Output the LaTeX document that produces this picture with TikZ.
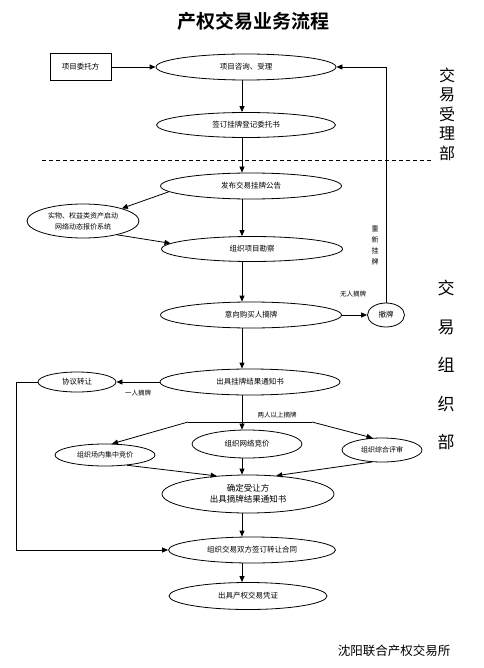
\documentclass[tikz,border=0pt]{standalone}
\usepackage{fontspec}
\setmainfont{Noto Sans CJK SC}
\newfontfamily\cjkb{Noto Sans CJK SC Bold}
\usetikzlibrary{shapes.geometric,arrows.meta,calc}
\tikzset{
  ell/.style={draw, ellipse, inner sep=0pt, line width=0.8pt, font=\fontsize{7.5}{9.5}\selectfont, align=center},
  arr/.style={-{Triangle[length=6pt,width=5pt]}, line width=0.8pt},
  ln/.style={line width=0.8pt},
  lbl/.style={font=\fontsize{6.5}{8}\selectfont, inner sep=0pt},
  side/.style={font=\fontsize{16}{19.5}\selectfont, inner sep=0pt, align=center},
}
\begin{document}
\begin{tikzpicture}[x=1pt,y=-1pt]
\useasboundingbox (0,0) rectangle (483,668);
\fill[white] (0,0) rectangle (483,668);
\coordinate (v) at (242,0);
% title
\node[font=\cjkb\fontsize{19}{22}\selectfont, inner sep=0pt] (title) at (253,21) {产权交易业务流程};
% side labels
\node[side] (s1) at (447,114) {交\\易\\受\\理\\部};
\node[side, font=\fontsize{17}{38.5}\selectfont] (s2) at (446,365) {交\\易\\组\\织\\部};
% dashed separator
\coordinate (d1) at (42,160); \coordinate (d2) at (432,160);
\draw[ln, dash pattern=on 4pt off 3pt] (d1) -- (d2);
% nodes
\node[draw, rectangle, line width=0.8pt, minimum width=61pt, minimum height=27pt, font=\fontsize{7.5}{9}\selectfont] (wt) at (80.5,67) {项目委托方};
\node[ell, minimum width=180pt, minimum height=26pt] (zx) at (246,67) {项目咨询、受理};
\node[ell, minimum width=179pt, minimum height=25pt] (qd) at (246,125) {签订挂牌登记委托书};
\node[ell, minimum width=181pt, minimum height=26pt] (fb) at (251,186) {发布交易挂牌公告};
\node[ell, minimum width=112pt, minimum height=34pt, font=\fontsize{7}{11}\selectfont] (sw) at (83,221) {实物、权益类资产启动\\网络动态报价系统};
\node[ell, minimum width=181pt, minimum height=25pt] (kc) at (252,249) {组织项目勘察};
\node[ell, minimum width=181pt, minimum height=26pt] (yx) at (251,315) {意向购买人摘牌};
\node[ell, minimum width=37pt, minimum height=24pt] (cp) at (386,315) {撤牌};
\node[ell, minimum width=180pt, minimum height=26pt] (jg) at (250,382) {出具挂牌结果通知书};
\node[ell, minimum width=78pt, minimum height=20pt] (xy) at (77,382) {协议转让};
\node[ell, minimum width=100pt, minimum height=22pt, font=\fontsize{7}{9}\selectfont] (cn) at (105,455) {组织场内集中竞价};
\node[ell, minimum width=110pt, minimum height=28pt] (wl) at (247,444) {组织网络竞价};
\node[ell, minimum width=80pt, minimum height=24pt, font=\fontsize{7}{9}\selectfont] (zh) at (382,450) {组织综合评审};
\node[ell, minimum width=172pt, minimum height=38pt, font=\fontsize{8.5}{11}\selectfont] (qs) at (248,494) {确定受让方\\出具摘牌结果通知书};
\node[ell, minimum width=167pt, minimum height=26pt] (ht) at (252,550) {组织交易双方签订转让合同};
\node[ell, minimum width=158pt, minimum height=27pt] (pz) at (248,596) {出具产权交易凭证};
% labels
\node[lbl] (l1) at (353,294) {无人摘牌};
\node[lbl] (l2) at (138,393) {一人摘牌};
\node[lbl] (l3) at (277,415) {两人以上摘牌};
\node[lbl, align=center, font=\fontsize{7}{11}\selectfont] (l4) at (375,245) {重\\新\\挂\\牌};
\node[font=\fontsize{12.5}{15}\selectfont, inner sep=0pt] (org) at (394,651) {沈阳联合产权交易所};
% connectors
\draw[arr] (wt.east) -- (zx.west);
\draw[arr] (zx.south -| v) -- (qd.north -| v);
\draw[arr] (qd.south -| v) -- (fb.north -| v);
\draw[arr] (fb.184) -- (sw.18);
\draw[arr] (sw.-22) -- (kc.176);
\draw[arr] (fb.south -| v) -- (kc.north -| v);
\draw[arr] (kc.south -| v) -- (yx.north -| v);
\draw[arr] (yx.east) -- (cp.west);
\draw[arr] (cp.north) -- (cp.north |- zx.east) -- (zx.east);
\draw[arr] (yx.south -| v) -- (jg.north -| v);
\draw[arr] (jg.west) -- (xy.east);
\coordinate (c1) at (16,382);
\draw[arr] (xy.west) -- (c1) -- (c1 |- ht.west) -- (ht.west);
\coordinate (hl) at (188,422); \coordinate (hr) at (312,422);
\draw[ln] (hl) -- (hr);
\draw[arr] (jg.south -| v) -- (wl.north -| v);
\draw[arr] (hl) -- (cn.58);
\draw[arr] (hr) -- (zh.128);
\draw[arr] (cn.-25) -- (qs.150);
\draw[arr] (wl.south -| v) -- (qs.north -| v);
\draw[arr] (zh.-130) -- (qs.33);
\draw[arr] (qs.south -| v) -- (ht.north -| v);
\draw[arr] (ht.south -| v) -- (pz.north -| v);
\end{tikzpicture}
\end{document}
